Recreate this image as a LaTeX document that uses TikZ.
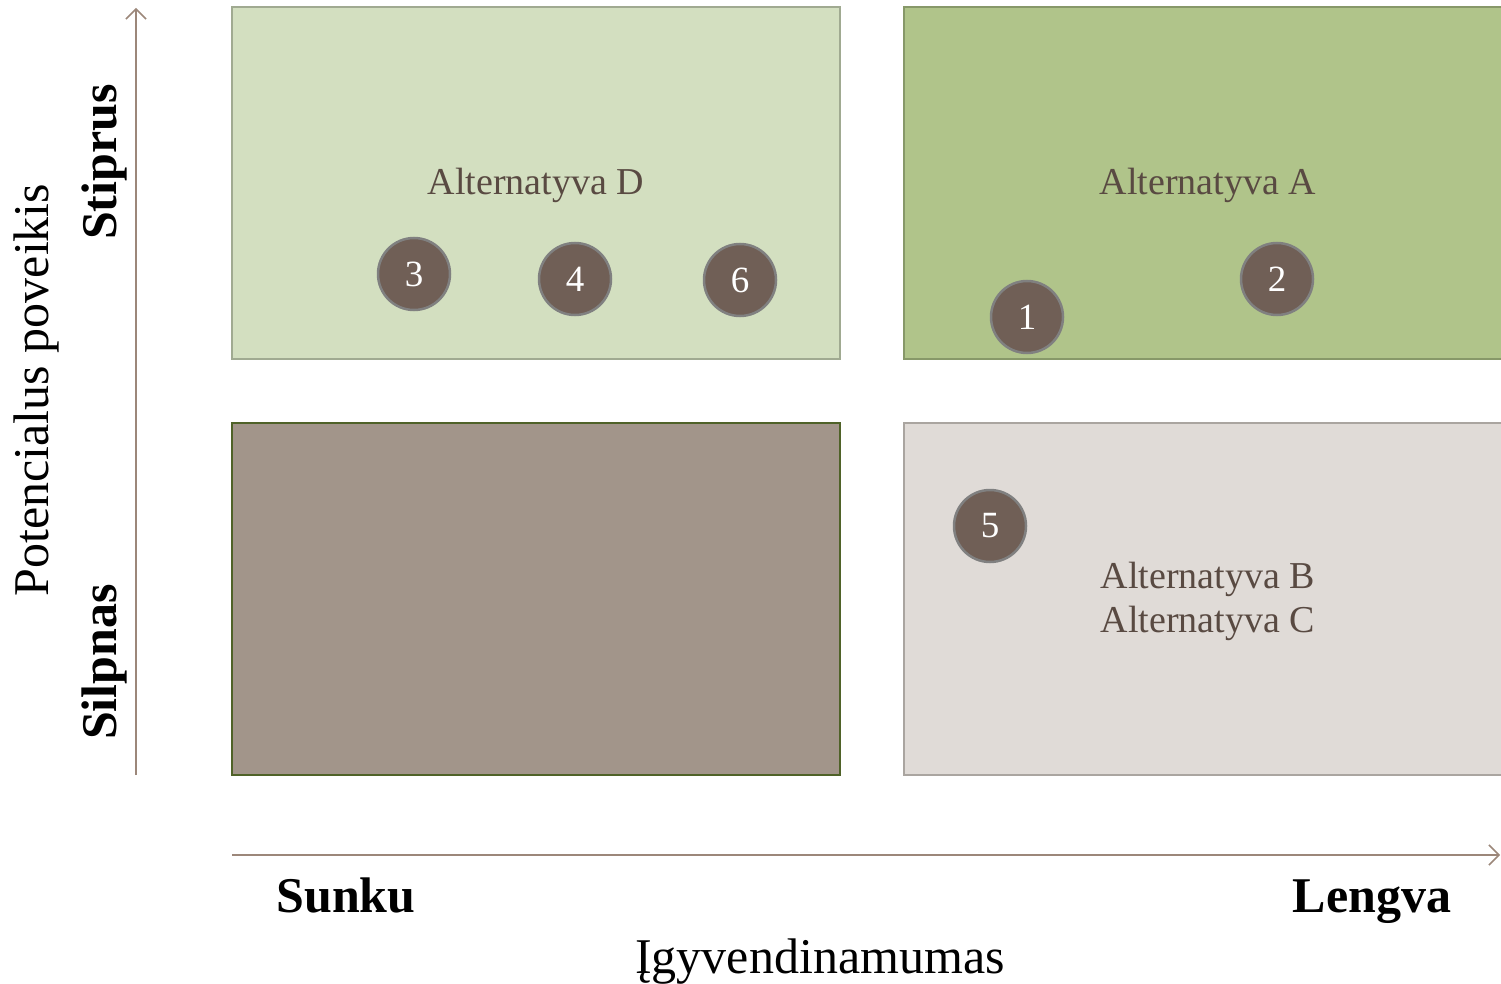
\documentclass[tikz,border=0pt]{standalone}
\usepackage{fontspec}
\setmainfont{Liberation Serif}
\usetikzlibrary{arrows.meta}
\definecolor{axisbrown}{RGB}{156,135,122}
\definecolor{textbrown}{RGB}{89,74,66}
\definecolor{dotbrown}{RGB}{112,95,86}
\tikzset{
  quad/.style={line width=2pt},
  dot/.style={circle, fill=dotbrown, draw={rgb,255:red,128;green,128;blue,128}, line width=2.5pt,
    minimum size=72pt, inner sep=0pt, text=white, font=\fontsize{37}{40}\selectfont},
  alt/.style={text=textbrown, font=\fontsize{38}{44}\selectfont, align=center},
  axislbl/.style={font=\bfseries\fontsize{50}{56}\selectfont}
}
\begin{document}
\begin{tikzpicture}[x=1pt,y=-1pt]
  \useasboundingbox (0,0) rectangle (1501,984);
  %quadrants
  \draw [quad, fill={rgb,255:red,211;green,223;blue,192}, draw={rgb,255:red,160;green,170;blue,145}] (232,7) rectangle (840,359);
  \draw [quad, fill={rgb,255:red,176;green,196;blue,138}, draw={rgb,255:red,135;green,152;blue,105}] (904,7) rectangle (1503,359);
  \draw [quad, fill={rgb,255:red,162;green,149;blue,138}, draw={rgb,255:red,79;green,98;blue,40}] (232,423) rectangle (840,775);
  \draw [quad, fill={rgb,255:red,224;green,219;blue,215}, draw={rgb,255:red,170;green,165;blue,160}] (904,423) rectangle (1503,775);
  %axes
  \coordinate (ybot) at (136,775);
  \coordinate (ytop) at (136,8);
  \coordinate (xleft) at (232,855);
  \coordinate (xright) at (1500,855);
  \draw [axisbrown, line width=1.5pt, -{Straight Barb[length=10pt, width=20pt]}] (ybot) -- (ytop);
  \draw [axisbrown, line width=1.5pt, -{Straight Barb[length=10pt, width=20pt]}] (xleft) -- (xright);
  %labels
  \node [alt] (altd) at (536,185) {Alternatyva D};
  \node [alt] (alta) at (1208,185) {Alternatyva A};
  \node [alt] (altbc) at (1208,601) {Alternatyva B\\Alternatyva C};
  \node [axislbl, rotate=90, anchor=base] (stiprus) at (116,162) {Stiprus};
  \node [axislbl, rotate=90, anchor=base] (silpnas) at (116,662) {Silpnas};
  \node [rotate=90, anchor=base, font=\fontsize{50}{56}\selectfont] (potenc) at (48,390) {Potencialus poveikis};
  \node [axislbl, anchor=base] (sunku) at (346,912) {Sunku};
  \node [axislbl, anchor=base] (lengva) at (1372,912) {Lengva};
  \node [anchor=base, font=\fontsize{50}{56}\selectfont] (igyv) at (820,973) {Įgyvendinamumas};
  %measures
  \node [dot] (m3) at (414,274) {3};
  \node [dot] (m4) at (575,279) {4};
  \node [dot] (m6) at (740,280) {6};
  \node [dot] (m1) at (1027,317) {1};
  \node [dot] (m2) at (1277,279) {2};
  \node [dot] (m5) at (990,526) {5};
\end{tikzpicture}
\end{document}
